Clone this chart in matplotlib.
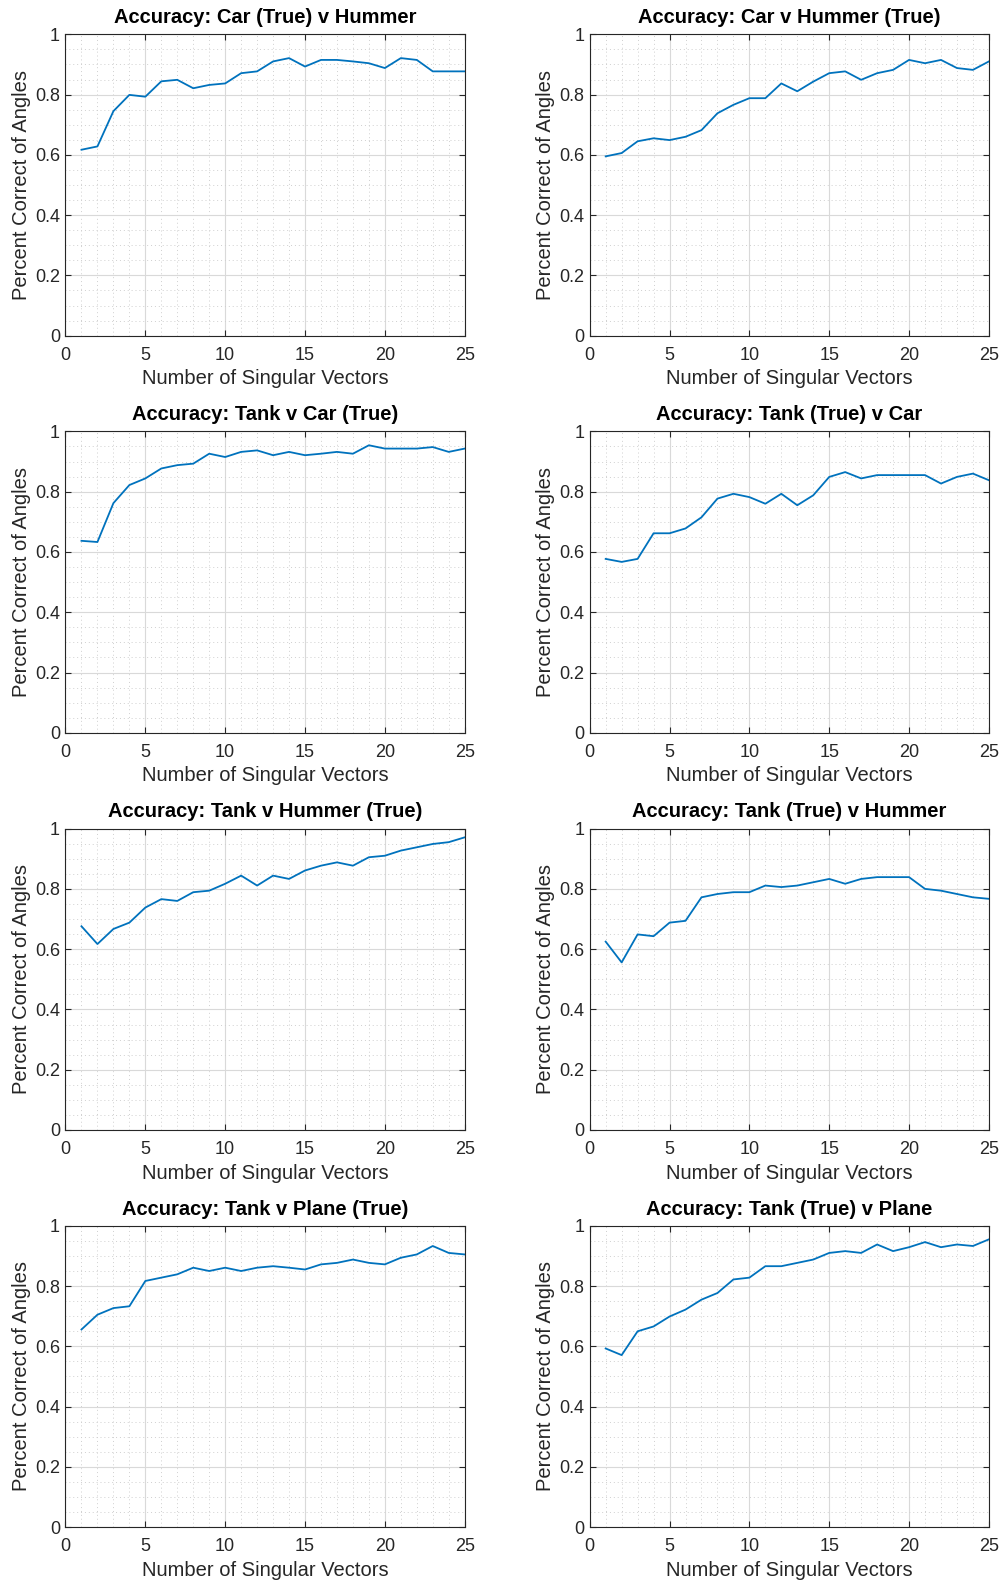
import matplotlib.pyplot as plt
from matplotlib.ticker import MultipleLocator, FormatStrFormatter
import numpy as np

plt.rcParams['font.family'] = ['Liberation Sans', 'DejaVu Sans']

n_vectors = np.arange(1, 26)

titles = [
    'Accuracy: Car (True) v Hummer',
    'Accuracy: Car v Hummer (True)',
    'Accuracy: Tank v Car (True)',
    'Accuracy: Tank (True) v Car',
    'Accuracy: Tank v Hummer (True)',
    'Accuracy: Tank (True) v Hummer',
    'Accuracy: Tank v Plane (True)',
    'Accuracy: Tank (True) v Plane',
]

car_true_v_hummer = [0.617, 0.628, 0.745, 0.799, 0.793, 0.844, 0.849, 0.821, 0.832, 0.837,
                     0.871, 0.877, 0.910, 0.921, 0.893, 0.915, 0.915, 0.910, 0.904, 0.888,
                     0.921, 0.915, 0.877, 0.877, 0.877]
car_v_hummer_true = [0.595, 0.606, 0.645, 0.655, 0.649, 0.660, 0.682, 0.738, 0.766, 0.788,
                     0.788, 0.837, 0.811, 0.843, 0.871, 0.877, 0.849, 0.871, 0.882, 0.915,
                     0.904, 0.915, 0.888, 0.882, 0.910]
tank_v_car_true = [0.637, 0.633, 0.762, 0.822, 0.844, 0.877, 0.888, 0.893, 0.926, 0.915,
                   0.932, 0.937, 0.921, 0.932, 0.921, 0.926, 0.932, 0.926, 0.954, 0.943,
                   0.943, 0.943, 0.948, 0.932, 0.943]
tank_true_v_car = [0.577, 0.567, 0.577, 0.662, 0.662, 0.678, 0.715, 0.777, 0.793, 0.782,
                   0.760, 0.793, 0.755, 0.788, 0.849, 0.865, 0.844, 0.855, 0.855, 0.855,
                   0.855, 0.827, 0.849, 0.860, 0.838]
tank_v_hummer_true = [0.676, 0.617, 0.667, 0.688, 0.738, 0.766, 0.760, 0.789, 0.794, 0.817,
                      0.844, 0.811, 0.844, 0.833, 0.861, 0.877, 0.888, 0.877, 0.905, 0.910,
                      0.927, 0.938, 0.949, 0.955, 0.971]
tank_true_v_hummer = [0.625, 0.556, 0.649, 0.643, 0.688, 0.694, 0.772, 0.783, 0.789, 0.789,
                      0.811, 0.806, 0.811, 0.822, 0.833, 0.817, 0.833, 0.839, 0.839, 0.839,
                      0.800, 0.794, 0.783, 0.772, 0.767]
tank_v_plane_true = [0.656, 0.705, 0.727, 0.733, 0.817, 0.828, 0.839, 0.861, 0.850, 0.861,
                     0.850, 0.861, 0.866, 0.861, 0.855, 0.872, 0.877, 0.888, 0.877, 0.872,
                     0.894, 0.905, 0.933, 0.910, 0.905]
tank_true_v_plane = [0.593, 0.571, 0.650, 0.666, 0.699, 0.722, 0.755, 0.777, 0.822, 0.828,
                     0.866, 0.866, 0.877, 0.888, 0.910, 0.916, 0.910, 0.938, 0.916, 0.929,
                     0.946, 0.929, 0.938, 0.933, 0.955]

series = [car_true_v_hummer, car_v_hummer_true, tank_v_car_true, tank_true_v_car,
          tank_v_hummer_true, tank_true_v_hummer, tank_v_plane_true, tank_true_v_plane]

W, H = 1004, 1581
fig = plt.figure(figsize=(W / 100, H / 100), dpi=100)

lefts = [65.5, 589.7]
tops = [34.3, 431.4, 828.6, 1225.8]
ax_w, ax_h = 399.2, 301.4
text_col = '#262626'

for idx, (title, vals) in enumerate(zip(titles, series)):
    row, col = divmod(idx, 2)
    x0 = lefts[col] / W
    y0 = 1 - (tops[row] + ax_h) / H
    ax = fig.add_axes([x0, y0, ax_w / W, ax_h / H])
    ax.plot(n_vectors, vals, color='#0072BD', lw=1.3)

    ax.set_xlim(0, 25)
    ax.set_ylim(0, 1)
    ax.xaxis.set_major_locator(MultipleLocator(5))
    ax.xaxis.set_minor_locator(MultipleLocator(1))
    ax.yaxis.set_major_locator(MultipleLocator(0.2))
    ax.yaxis.set_minor_locator(MultipleLocator(0.05))
    ax.yaxis.set_major_formatter(FormatStrFormatter('%g'))

    ax.grid(which='major', color='#d9d9d9', lw=0.8)
    ax.grid(which='minor', color='#cfcfcf', lw=0.7, ls=(0, (1, 3)))
    ax.set_axisbelow(True)

    ax.tick_params(which='major', direction='in', top=True, right=True,
                   length=4, width=0.8, colors=text_col, labelsize=13)
    ax.tick_params(axis='x', which='major', pad=8)
    ax.tick_params(axis='y', which='major', pad=4)
    ax.tick_params(which='minor', length=0)
    for s in ax.spines.values():
        s.set_color(text_col)
        s.set_linewidth(0.8)

    ax.set_title(title, fontsize=14.5, fontweight='bold', color='black', pad=8)
    ax.set_xlabel('Number of Singular Vectors', fontsize=14.5, color=text_col, labelpad=4)
    ax.set_ylabel('Percent Correct of Angles', fontsize=14.5, color=text_col, labelpad=3)

fig.savefig('out.png', dpi=100)
